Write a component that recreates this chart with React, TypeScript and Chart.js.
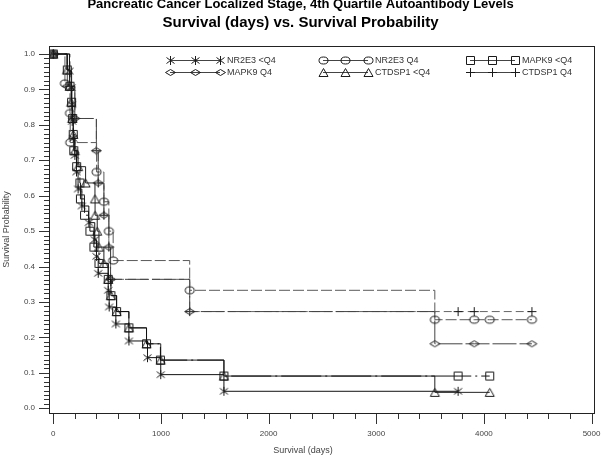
import React, { useEffect, useRef } from 'react';
import { Chart, registerables } from 'chart.js';

Chart.register(...registerables);

// ---- text ----
const TITLE_LINE_1 = 'Pancreatic Cancer Localized Stage, 4th Quartile Autoantibody Levels';
const TITLE_LINE_2 = 'Survival (days) vs. Survival Probability';
const X_TITLE = 'Survival (days)';
const Y_TITLE = 'Survival Probability';
const X_TICKS = [0, 1000, 2000, 3000, 4000, 5000];
const Y_TICKS = [0, 0.1, 0.2, 0.3, 0.4, 0.5, 0.6, 0.7, 0.8, 0.9, 1.0];

const SERIES_NAMES = ['NR2E3 <Q4', 'NR2E3 Q4', 'MAPK9 <Q4', 'MAPK9 Q4', 'CTDSP1 <Q4', 'CTDSP1 Q4'];

// ---- data (days, survival probability) ----
const nr2e3LowDays = [0, 150, 170, 172, 175, 185, 200, 215, 230, 265, 330, 385, 401, 417, 510, 519, 581, 702, 875, 998, 1585, 3760];
const nr2e3LowSurv = [1.0, 0.952, 0.905, 0.857, 0.81, 0.762, 0.714, 0.667, 0.619, 0.571, 0.524, 0.476, 0.429, 0.381, 0.333, 0.286, 0.238, 0.19, 0.143, 0.095, 0.048, 0.048];

const nr2e3HighDays = [0, 108, 155, 157, 402, 470, 516, 556, 1267, 3544, 3910, 4054, 4446];
const nr2e3HighSurv = [1.0, 0.917, 0.833, 0.75, 0.667, 0.583, 0.5, 0.417, 0.333, 0.25, 0.25, 0.25, 0.25];

const mapk9LowDays = [0, 130, 155, 170, 180, 185, 190, 217, 247, 252, 290, 340, 377, 424, 510, 535, 588, 702, 866, 995, 1585, 3760, 4054];
const mapk9LowSurv = [1.0, 0.955, 0.909, 0.864, 0.818, 0.773, 0.727, 0.682, 0.636, 0.591, 0.545, 0.5, 0.455, 0.409, 0.364, 0.318, 0.273, 0.227, 0.182, 0.136, 0.091, 0.091, 0.091];

const mapk9HighDays = [0, 130, 200, 400, 417, 470, 516, 532, 1267, 3544, 3910, 4446];
const mapk9HighSurv = [1.0, 0.909, 0.818, 0.727, 0.636, 0.545, 0.455, 0.364, 0.273, 0.182, 0.182, 0.182];

const ctdsp1LowDays = [0, 127, 150, 165, 175, 185, 200, 230, 300, 387, 388, 408, 424, 470, 510, 535, 588, 702, 866, 998, 1585, 3544, 4054];
const ctdsp1LowSurv = [1.0, 0.955, 0.909, 0.864, 0.818, 0.773, 0.727, 0.682, 0.636, 0.591, 0.545, 0.5, 0.455, 0.409, 0.364, 0.318, 0.273, 0.227, 0.182, 0.136, 0.091, 0.045, 0.045];

const ctdsp1HighDays = [0, 155, 200, 400, 417, 470, 516, 532, 1267, 3760, 3910, 4446];
const ctdsp1HighSurv = [1.0, 0.909, 0.818, 0.727, 0.636, 0.545, 0.455, 0.364, 0.273, 0.273, 0.273, 0.273];

const ALL_DAYS = [nr2e3LowDays, nr2e3HighDays, mapk9LowDays, mapk9HighDays, ctdsp1LowDays, ctdsp1HighDays];
const ALL_SURV = [nr2e3LowSurv, nr2e3HighSurv, mapk9LowSurv, mapk9HighSurv, ctdsp1LowSurv, ctdsp1HighSurv];

// ---- styles ----
const MARKERS = ['star', 'circle', 'square', 'diamond', 'triangle', 'plus'];
const LINE_COLORS = ['#111111', '#5a5a5a', '#111111', '#444444', '#222222', '#666666'];
const LINE_DASHES: number[][] = [[], [11, 3], [40, 4, 2, 4], [24, 3], [], [8, 4]];

const FONT = '"Liberation Sans", Arial, sans-serif';

function makeMarker(kind: string): HTMLCanvasElement {
  const c = document.createElement('canvas');
  c.width = 13;
  c.height = 13;
  const g = c.getContext('2d') as CanvasRenderingContext2D;
  g.strokeStyle = '#1a1a1a';
  g.lineWidth = 1;
  g.beginPath();
  switch (kind) {
    case 'star':
      g.moveTo(6.5, 2); g.lineTo(6.5, 11);
      g.moveTo(2.5, 3.5); g.lineTo(10.5, 9.5);
      g.moveTo(10.5, 3.5); g.lineTo(2.5, 9.5);
      break;
    case 'circle':
      g.ellipse(6.5, 6.5, 4.5, 3.5, 0, 0, Math.PI * 2);
      break;
    case 'square':
      g.rect(2.5, 2.5, 8, 8);
      break;
    case 'diamond':
      g.moveTo(1.5, 6.5); g.lineTo(6.5, 3.5); g.lineTo(11.5, 6.5); g.lineTo(6.5, 9.5); g.closePath();
      break;
    case 'triangle':
      g.moveTo(6.5, 2.5); g.lineTo(11, 10.5); g.lineTo(2, 10.5); g.closePath();
      break;
    case 'plus':
      g.moveTo(6.5, 2); g.lineTo(6.5, 11);
      g.moveTo(2, 6.5); g.lineTo(11, 6.5);
      break;
  }
  g.stroke();
  return c;
}

export default function App() {
  const canvasRef = useRef<HTMLCanvasElement | null>(null);

  useEffect(() => {
    const canvas = canvasRef.current;
    if (!canvas) return;
    const markerImgs = MARKERS.map(makeMarker);

    const datasets = SERIES_NAMES.map((name, i) => ({
      label: name,
      data: ALL_DAYS[i].map((d, j) => ({ x: d, y: ALL_SURV[i][j] })),
      stepped: true as const,
      borderColor: LINE_COLORS[i],
      borderWidth: 1,
      borderDash: LINE_DASHES[i],
      pointStyle: markerImgs[i],
      pointRadius: 5,
      fill: false,
    }));

    const decorations = {
      id: 'decorations',
      afterDraw(chart: any) {
        const { ctx, chartArea } = chart;
        const { left, top, right, bottom } = chartArea;
        const xs = chart.scales.x;
        const ys = chart.scales.y;
        ctx.save();
        // frame
        ctx.strokeStyle = '#222';
        ctx.lineWidth = 1;
        ctx.setLineDash([]);
        ctx.strokeRect(Math.round(left) + 0.5, Math.round(top) + 0.5, Math.round(right - left) - 1, Math.round(bottom - top));
        // x ticks
        ctx.strokeStyle = '#333';
        ctx.beginPath();
        for (let v = 0; v <= 5000; v += 200) {
          const px = Math.round(xs.getPixelForValue(v)) + 0.5;
          const len = v % 1000 === 0 ? 10 : 5;
          ctx.moveTo(px, Math.round(bottom) + 1);
          ctx.lineTo(px, Math.round(bottom) + 1 + len);
        }
        // y ticks
        for (let i = 0; i <= 80; i++) {
          const py = Math.round(ys.getPixelForValue(i / 80)) + 0.5;
          const len = i % 8 === 0 ? 10 : 5;
          ctx.moveTo(Math.round(left), py);
          ctx.lineTo(Math.round(left) - len, py);
        }
        ctx.stroke();

        // titles
        ctx.fillStyle = '#000';
        ctx.textAlign = 'center';
        ctx.textBaseline = 'alphabetic';
        ctx.font = `bold 13px ${FONT}`;
        ctx.fillText(TITLE_LINE_1, 300.5, 8);
        ctx.font = `bold 15px ${FONT}`;
        ctx.fillText(TITLE_LINE_2, 300.5, 27);

        // x title
        ctx.fillStyle = '#444';
        ctx.font = `9px ${FONT}`;
        ctx.textBaseline = 'middle';
        ctx.fillText(X_TITLE, 303, 451);

        // legend
        const colX = [170, 323, 470];
        const colW = [50, 45, 45];
        const textX = [227, 375, 522];
        const rowY = [60, 72];
        ctx.textAlign = 'left';
        ctx.fillStyle = '#333';
        for (let i = 0; i < SERIES_NAMES.length; i++) {
          const r = Math.floor(i / 3);
          const c = i % 3;
          const y = rowY[r];
          const x0 = colX[c];
          ctx.strokeStyle = '#444';
          ctx.beginPath();
          ctx.moveTo(x0, y + 0.5);
          ctx.lineTo(x0 + colW[c], y + 0.5);
          ctx.stroke();
          for (let k = 0; k < 3; k++) {
            const mx = x0 + (colW[c] * k) / 2;
            ctx.drawImage(markerImgs[i], Math.round(mx - 6.5), Math.round(y - 6));
          }
          ctx.fillText(SERIES_NAMES[i], textX[c], y + 0.5);
        }
        ctx.restore();
      },
    };

    const chart = new Chart(canvas, {
      type: 'line',
      data: { datasets },
      options: {
        responsive: false,
        animation: false,
        devicePixelRatio: 1,
        events: [],
        layout: { padding: { top: 46, right: 4, bottom: 0, left: 0 } },
        plugins: {
          legend: { display: false },
          title: { display: false },
          tooltip: { enabled: false },
        },
        scales: {
          x: {
            type: 'linear',
            min: -40,
            max: 5032,
            afterBuildTicks: (s: any) => {
              s.ticks = X_TICKS.map((v) => ({ value: v }));
            },
            afterFit: (s: any) => {
              s.height = 48;
              s.paddingLeft = 0;
              s.paddingRight = 0;
            },
            grid: { display: false, drawTicks: false },
            border: { display: false },
            ticks: {
              padding: 16,
              color: '#444',
              font: { family: FONT, size: 8 },
              maxRotation: 0,
              autoSkip: false,
              callback: (v: any) => String(v),
            },
          },
          y: {
            type: 'linear',
            min: -0.0133,
            max: 1.0226,
            afterBuildTicks: (s: any) => {
              s.ticks = Y_TICKS.map((v) => ({ value: v }));
            },
            afterFit: (s: any) => {
              s.width = 49;
              s.paddingTop = 0;
              s.paddingBottom = 0;
            },
            grid: { display: false, drawTicks: false },
            border: { display: false },
            ticks: {
              padding: 14,
              color: '#444',
              font: { family: FONT, size: 8 },
              autoSkip: false,
              callback: (v: any) => Number(v).toFixed(1),
            },
            title: {
              display: true,
              text: Y_TITLE,
              color: '#444',
              font: { family: FONT, size: 9 },
              padding: { top: 1.5, bottom: 0 },
            },
          },
        },
      },
      plugins: [decorations],
    } as any);

    return () => chart.destroy();
  }, []);

  return (
    <div style={{ position: 'absolute', left: 0, top: 0, width: 601, height: 461, background: '#fff' }}>
      <canvas ref={canvasRef} width={601} height={461} />
    </div>
  );
}
